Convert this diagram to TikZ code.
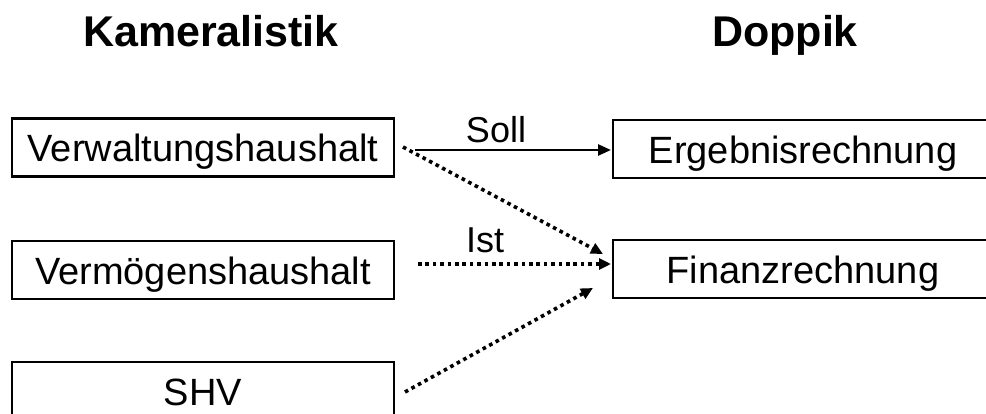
\documentclass[tikz,border=0pt]{standalone}
\usepackage{fontspec}
\setmainfont{Liberation Sans}
\usetikzlibrary{arrows.meta}
\begin{document}
\begin{tikzpicture}[x=1pt,y=-1pt,
  box/.style={draw, line width=2.5pt, minimum width=382pt, minimum height=58pt,
    inner sep=0pt, text height=36pt, text depth=7pt, font=\fontsize{38}{45}\selectfont},
  rbox/.style={box, minimum width=380pt},
  title/.style={font=\fontsize{43}{50}\selectfont\bfseries, anchor=base, inner sep=0pt},
  lbl/.style={font=\fontsize{36}{42}\selectfont, anchor=base, inner sep=0pt},
  solidarrow/.style={line width=2.5pt, -{Triangle[length=13pt,width=11pt]}},
  dotarrow/.style={line width=3.6pt, dash pattern=on 3.6pt off 3.8pt,
    -{Triangle[length=12pt,width=11pt]}}]
\useasboundingbox (0,0) rectangle (986,414);
\clip (0,0) rectangle (986,414);

% titles
\node[title] (kam) at (211,47) {Kameralistik};
\node[title] (dop) at (785,47) {Doppik};

% left boxes
\node[box] (vw) at (203,147.5) {Verwaltungshaushalt};
\node[box] (vm) at (203,270) {Vermögenshaushalt};
\node[box] (shv) at (203,391) {SHV};

% right boxes
\node[rbox] (erg) at (803,149) {Ergebnisrechnung};
\node[rbox] (fin) at (803,269) {Finanzrechnung};

% connector ends
\coordinate (s1) at (415,150);
\coordinate (s2) at (611,150);
\coordinate (d1a) at (403,147);
\coordinate (d1b) at (603,254);
\coordinate (i1) at (418,264);
\coordinate (i2) at (611,264);
\coordinate (h1) at (405,392);
\coordinate (h2) at (593,288);

% connectors
\draw[solidarrow] (s1) -- (s2);
\draw[dotarrow] (d1a) -- (d1b);
\draw[dotarrow] (i1) -- (i2);
\draw[dotarrow] (h1) -- (h2);

% labels
\node[lbl] (soll) at (496,143) {Soll};
\node[lbl] (ist) at (485,253) {Ist};
\end{tikzpicture}
\end{document}
